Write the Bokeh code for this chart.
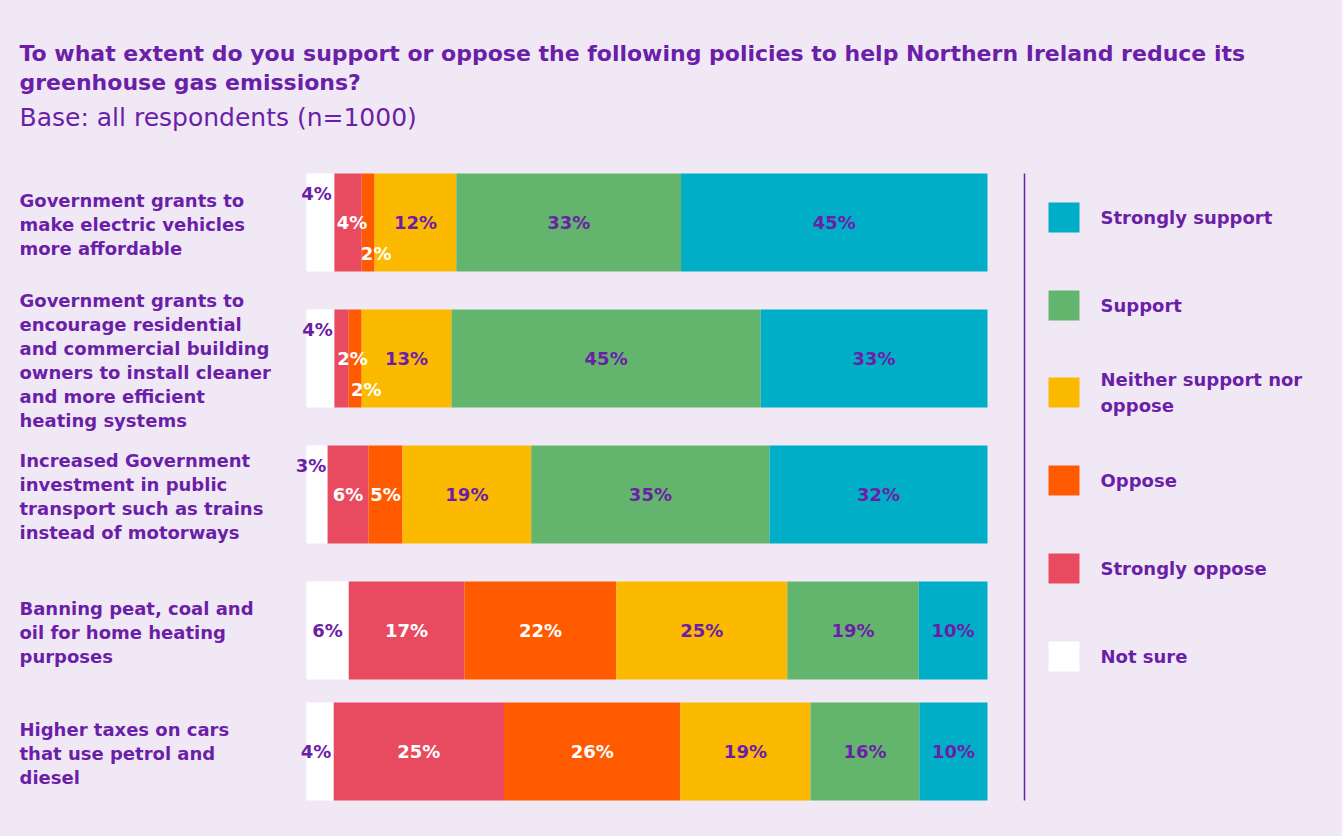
from bokeh.plotting import figure
from bokeh.models import Range1d
from bokeh.core.properties import value
from bokeh.embed import file_html
from bokeh.resources import INLINE

# ---------------- data ----------------
categories = [
    "Government grants to\nmake electric vehicles\nmore affordable",
    "Government grants to\nencourage residential\nand commercial building\nowners to install cleaner\nand more efficient\nheating systems",
    "Increased Government\ninvestment in public\ntransport such as trains\ninstead of motorways",
    "Banning peat, coal and\noil for home heating\npurposes",
    "Higher taxes on cars\nthat use petrol and\ndiesel",
]
series_names = ["Not sure", "Strongly oppose", "Oppose",
                "Neither support nor oppose", "Support", "Strongly support"]
not_sure = [4.1, 4.1, 3.1, 6.2, 4.0]
strongly_oppose = [4.0, 2.1, 6.0, 17.0, 25.0]
oppose = [1.9, 1.9, 5.0, 22.3, 25.9]
neither = [12.0, 13.2, 18.9, 25.1, 19.1]
support = [33.0, 45.4, 35.0, 19.3, 16.0]
strongly_support = [45.0, 33.3, 32.0, 10.1, 10.0]
series_values = [not_sure, strongly_oppose, oppose, neither, support, strongly_support]

title_lines = ["To what extent do you support or oppose the following policies to help Northern Ireland reduce its",
               "greenhouse gas emissions?"]
subtitle = "Base: all respondents (n=1000)"
legend_order = ["Strongly support", "Support", "Neither support nor\noppose",
                "Oppose", "Strongly oppose", "Not sure"]

# ---------------- style / layout ----------------
BG = "#f1e8f6"
PURPLE = "#6b1fa8"
colors = ["#ffffff", "#e84a5f", "#ff5a00", "#fbba00", "#63b56d", "#00aec7"]
label_colors = [PURPLE, "#ffffff", "#ffffff", PURPLE, PURPLE, PURPLE]
legend_colors = ["#00aec7", "#63b56d", "#fbba00", "#ff5a00", "#e84a5f", "#ffffff"]
FONT = "DejaVu Sans"

W, H = 1326, 820
PX = 6.81          # pixels per percent
X0 = 306           # page pixel where 0% sits


def fx(page_x):
    return (page_x - X0) / PX


def fy(page_y):
    return page_y


row_y = [fy(v) for v in (222, 358, 494, 630, 751)]
BAR_H = 98

# small-segment label offsets (row, series) -> (dx, dy) in pixels
offsets = {
    (0, 0): (-4, -29), (0, 1): (4, 0), (0, 2): (8, 31),
    (1, 0): (-3, -29), (1, 1): (11, 0), (1, 2): (11, 31),
    (2, 0): (-6, -29),
    (4, 0): (-4, 0),
}

p = figure(width=W, height=H, x_range=Range1d(fx(0), fx(W)),
           y_range=Range1d(H, 0), output_backend="svg", toolbar_location=None,
           x_axis_type=None, y_axis_type=None, min_border=0)
p.background_fill_color = BG
p.border_fill_color = BG
p.outline_line_color = None
p.grid.visible = False

# bars
label_specs = []
for si, vals in enumerate(series_values):
    lefts, rights = [], []
    for r in range(len(categories)):
        left = sum(series_values[k][r] for k in range(si))
        lefts.append(left)
        rights.append(left + vals[r])
    p.hbar(y=row_y, left=lefts, right=rights, height=BAR_H,
           fill_color=colors[si], line_color=None)
    label_specs.append((si, vals, lefts, rights))

# value labels (drawn after all bars)
for si, vals, lefts, rights in label_specs:
    xs = [(l + r) / 2 for l, r in zip(lefts, rights)]
    dx = [offsets.get((r, si), (0, 0))[0] for r in range(len(categories))]
    dy = [offsets.get((r, si), (0, 0))[1] for r in range(len(categories))]
    p.text(x=xs, y=row_y, text=[f"{round(v)}%" for v in vals],
           x_offset=dx, y_offset=dy,
           text_align="center", text_baseline="middle",
           text_color=label_colors[si], text_font=value(FONT),
           text_font_size="18px", text_font_style="bold")

# category labels
LH = 24
for r, cat in enumerate(categories):
    lines = cat.split("\n")
    n = len(lines)
    c = row_y[r] + 2
    ys = [c + (i - (n - 1) / 2) * LH for i in range(n)]
    p.text(x=[fx(19)] * n, y=ys, text=lines, text_align="left",
           text_baseline="middle", text_color=PURPLE, text_font=value(FONT),
           text_font_size="18px", text_font_style="bold")

# title
p.text(x=[fx(19)] * 2, y=[fy(53), fy(82)], text=title_lines, text_align="left",
       text_baseline="middle", text_color=PURPLE, text_font=value(FONT),
       text_font_size="22px", text_font_style="bold")
p.text(x=[fx(19)], y=[fy(117)], text=[subtitle], text_align="left",
       text_baseline="middle", text_color=PURPLE, text_font=value(FONT),
       text_font_size="25px")

# legend
p.segment(x0=[fx(1024)], y0=[fy(173)], x1=[fx(1024)], y1=[fy(800)],
          line_color=PURPLE, line_width=1.5)
leg_y = [fy(v) for v in (217, 305, 392, 480, 568, 656)]
p.rect(x=[fx(1063.5)] * 6, y=leg_y, width=31, height=30,
       width_units="screen", height_units="screen",
       fill_color=legend_colors, line_color=None)
for lab, yy in zip(legend_order, leg_y):
    lines = lab.split("\n")
    n = len(lines)
    ys = [yy + (i - (n - 1) / 2) * 26 for i in range(n)]
    p.text(x=[fx(1100)] * n, y=ys, text=lines, text_align="left",
           text_baseline="middle", text_color=PURPLE, text_font=value(FONT),
           text_font_size="18px", text_font_style="bold")

html = file_html(p, INLINE, title="Support for policies")
html = html.replace("<body>", f'<body style="background-color:{BG};">')
open("out.html", "w").write(html)
